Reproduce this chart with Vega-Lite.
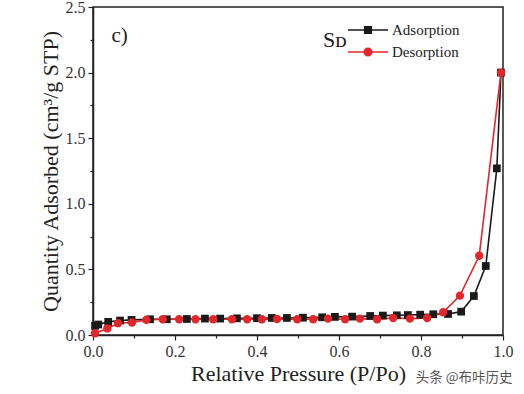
{
  "$schema": "https://vega.github.io/schema/vega-lite/v6.json",
  "width": 410,
  "height": 328,
  "autosize": {"type": "none"},
  "padding": {"left": 93, "top": 7, "right": 21, "bottom": 59},
  "background": "white",
  "config": {
    "view": {"stroke": "#222", "strokeWidth": 1.5},
    "axis": {"labelFont": "Liberation Serif", "labelFontSize": 16, "labelColor": "#333", "labelFlush": false, "labelOverlap": false, "titleFont": "Liberation Serif", "titleFontSize": 22, "titleFontWeight": "normal", "titleColor": "#222", "domainColor": "#222", "domainWidth": 1.5, "tickColor": "#222", "tickWidth": 1.2, "grid": false}
  },
  "datasets": {
    "iso": [
      {"p": 0.005, "q": 0.07, "branch": "Adsorption"},
      {"p": 0.013, "q": 0.08, "branch": "Adsorption"},
      {"p": 0.037, "q": 0.1, "branch": "Adsorption"},
      {"p": 0.066, "q": 0.11, "branch": "Adsorption"},
      {"p": 0.094, "q": 0.115, "branch": "Adsorption"},
      {"p": 0.139, "q": 0.12, "branch": "Adsorption"},
      {"p": 0.18, "q": 0.12, "branch": "Adsorption"},
      {"p": 0.229, "q": 0.122, "branch": "Adsorption"},
      {"p": 0.273, "q": 0.125, "branch": "Adsorption"},
      {"p": 0.31, "q": 0.125, "branch": "Adsorption"},
      {"p": 0.351, "q": 0.127, "branch": "Adsorption"},
      {"p": 0.4, "q": 0.128, "branch": "Adsorption"},
      {"p": 0.436, "q": 0.13, "branch": "Adsorption"},
      {"p": 0.473, "q": 0.13, "branch": "Adsorption"},
      {"p": 0.512, "q": 0.132, "branch": "Adsorption"},
      {"p": 0.559, "q": 0.135, "branch": "Adsorption"},
      {"p": 0.59, "q": 0.138, "branch": "Adsorption"},
      {"p": 0.632, "q": 0.14, "branch": "Adsorption"},
      {"p": 0.676, "q": 0.145, "branch": "Adsorption"},
      {"p": 0.707, "q": 0.148, "branch": "Adsorption"},
      {"p": 0.741, "q": 0.15, "branch": "Adsorption"},
      {"p": 0.768, "q": 0.152, "branch": "Adsorption"},
      {"p": 0.798, "q": 0.155, "branch": "Adsorption"},
      {"p": 0.83, "q": 0.158, "branch": "Adsorption"},
      {"p": 0.866, "q": 0.16, "branch": "Adsorption"},
      {"p": 0.898, "q": 0.178, "branch": "Adsorption"},
      {"p": 0.929, "q": 0.297, "branch": "Adsorption"},
      {"p": 0.958, "q": 0.526, "branch": "Adsorption"},
      {"p": 0.985, "q": 1.27, "branch": "Adsorption"},
      {"p": 0.995, "q": 2.0, "branch": "Adsorption"},
      {"p": 0.995, "q": 2.0, "branch": "Desorption"},
      {"p": 0.942, "q": 0.604, "branch": "Desorption"},
      {"p": 0.895, "q": 0.3, "branch": "Desorption"},
      {"p": 0.854, "q": 0.173, "branch": "Desorption"},
      {"p": 0.815, "q": 0.13, "branch": "Desorption"},
      {"p": 0.773, "q": 0.125, "branch": "Desorption"},
      {"p": 0.732, "q": 0.13, "branch": "Desorption"},
      {"p": 0.693, "q": 0.12, "branch": "Desorption"},
      {"p": 0.651, "q": 0.125, "branch": "Desorption"},
      {"p": 0.615, "q": 0.12, "branch": "Desorption"},
      {"p": 0.573, "q": 0.125, "branch": "Desorption"},
      {"p": 0.537, "q": 0.12, "branch": "Desorption"},
      {"p": 0.498, "q": 0.12, "branch": "Desorption"},
      {"p": 0.449, "q": 0.122, "branch": "Desorption"},
      {"p": 0.412, "q": 0.12, "branch": "Desorption"},
      {"p": 0.376, "q": 0.12, "branch": "Desorption"},
      {"p": 0.339, "q": 0.12, "branch": "Desorption"},
      {"p": 0.293, "q": 0.12, "branch": "Desorption"},
      {"p": 0.25, "q": 0.12, "branch": "Desorption"},
      {"p": 0.21, "q": 0.12, "branch": "Desorption"},
      {"p": 0.17, "q": 0.12, "branch": "Desorption"},
      {"p": 0.13, "q": 0.115, "branch": "Desorption"},
      {"p": 0.095, "q": 0.095, "branch": "Desorption"},
      {"p": 0.061, "q": 0.09, "branch": "Desorption"},
      {"p": 0.035, "q": 0.05, "branch": "Desorption"},
      {"p": 0.005, "q": 0.013, "branch": "Desorption"}
    ],
    "notes": [
      {"p": 0.065, "q": 2.28, "label": "c)", "kind": "panel"},
      {"p": 0.905, "q": -0.325, "label": "头条 @布咔历史", "kind": "mark"}
    ]
  },
  "resolve": {"axis": {"x": "independent", "y": "independent"}},
  "layer": [
    {
      "data": {"name": "iso"},
      "mark": {"type": "line", "strokeWidth": 1.6},
      "encoding": {
        "x": {"field": "p", "type": "quantitative", "scale": {"domain": [0, 1], "nice": false}, "axis": {"orient": "bottom", "values": [0, 0.2, 0.4, 0.6, 0.8, 1.0], "format": ".1f", "title": "Relative Pressure (P/Po)", "titlePadding": 4, "labelPadding": 3, "tickSize": 5}},
        "y": {"field": "q", "type": "quantitative", "scale": {"domain": [0, 2.5], "nice": false}, "axis": {"orient": "left", "values": [0, 0.5, 1.0, 1.5, 2.0, 2.5], "format": ".1f", "title": "Quantity Adsorbed (cm³/g STP)", "titlePadding": 3, "labelPadding": 3, "tickSize": 5}},
        "color": {"field": "branch", "type": "nominal", "scale": {"domain": ["Adsorption", "Desorption"], "range": ["#1a1a1a", "#e3262b"]}, "legend": {"orient": "none", "legendX": 230, "legendY": 12, "title": "Sᴅ", "titleOrient": "left", "titleAnchor": "middle", "titleBaseline": "middle", "titleFont": "Liberation Serif", "titleFontSize": 22, "titleFontWeight": "normal", "titleColor": "#222", "titlePadding": 10, "labelFont": "Liberation Serif", "labelFontSize": 15, "labelColor": "#222", "symbolType": "M-2,0H2M-0.34,-0.34H0.34V0.34H-0.34Z", "symbolSize": 400, "symbolStrokeWidth": 1.4, "rowPadding": 3, "labelOffset": 13, "encode": {"symbols": {"update": {"shape": {"signal": "datum.value === 'Adsorption' ? 'M-2,0H2M-0.34,-0.34H0.34V0.34H-0.34Z' : 'M-2,0H2M-0.38,0A0.38,0.38 0 1,0 0.38,0A0.38,0.38 0 1,0 -0.38,0Z'"}, "fill": {"scale": "color", "field": "value"}, "stroke": {"scale": "color", "field": "value"}, "opacity": {"value": 1}}}}}},
        "detail": {"field": "branch"},
        "order": {"field": "p"}
      }
    },
    {
      "data": {"name": "iso"},
      "transform": [{"filter": "datum.branch === 'Adsorption'"}],
      "mark": {"type": "point", "filled": true, "opacity": 1, "shape": "square", "color": "#1a1a1a", "size": 60},
      "encoding": {
        "x": {"field": "p", "type": "quantitative", "axis": null},
        "y": {"field": "q", "type": "quantitative", "axis": null}
      }
    },
    {
      "data": {"name": "iso"},
      "transform": [{"filter": "datum.branch === 'Desorption'"}],
      "mark": {"type": "point", "filled": true, "opacity": 1, "shape": "circle", "color": "#e3262b", "size": 70},
      "encoding": {
        "x": {"field": "p", "type": "quantitative", "axis": null},
        "y": {"field": "q", "type": "quantitative", "axis": null}
      }
    },
    {
      "mark": {"type": "rect", "fill": null, "stroke": "#222", "strokeWidth": 1.5},
      "encoding": {
        "x": {"datum": 0, "type": "quantitative", "axis": {"orient": "bottom", "values": [0.1, 0.3, 0.5, 0.7, 0.9], "labels": false, "domain": false, "title": null, "tickSize": 3}},
        "x2": {"datum": 1},
        "y": {"datum": 0, "type": "quantitative", "axis": {"orient": "left", "values": [0.25, 0.75, 1.25, 1.75, 2.25], "labels": false, "domain": false, "title": null, "tickSize": 3}},
        "y2": {"datum": 2.5}
      }
    },
    {
      "data": {"name": "notes"},
      "transform": [{"filter": "datum.kind === 'panel'"}],
      "mark": {"type": "text", "font": "Liberation Serif", "fontSize": 21, "color": "#222", "align": "center", "baseline": "middle"},
      "encoding": {"x": {"field": "p", "type": "quantitative", "axis": null}, "y": {"field": "q", "type": "quantitative", "axis": null}, "text": {"field": "label"}}
    },
    {
      "data": {"name": "notes"},
      "transform": [{"filter": "datum.kind === 'mark'"}],
      "mark": {"type": "text", "font": "Noto Sans CJK SC", "fontSize": 13.5, "color": "#555", "align": "center", "baseline": "middle"},
      "encoding": {"x": {"field": "p", "type": "quantitative", "axis": null}, "y": {"field": "q", "type": "quantitative", "axis": null}, "text": {"field": "label"}}
    }
  ]
}
